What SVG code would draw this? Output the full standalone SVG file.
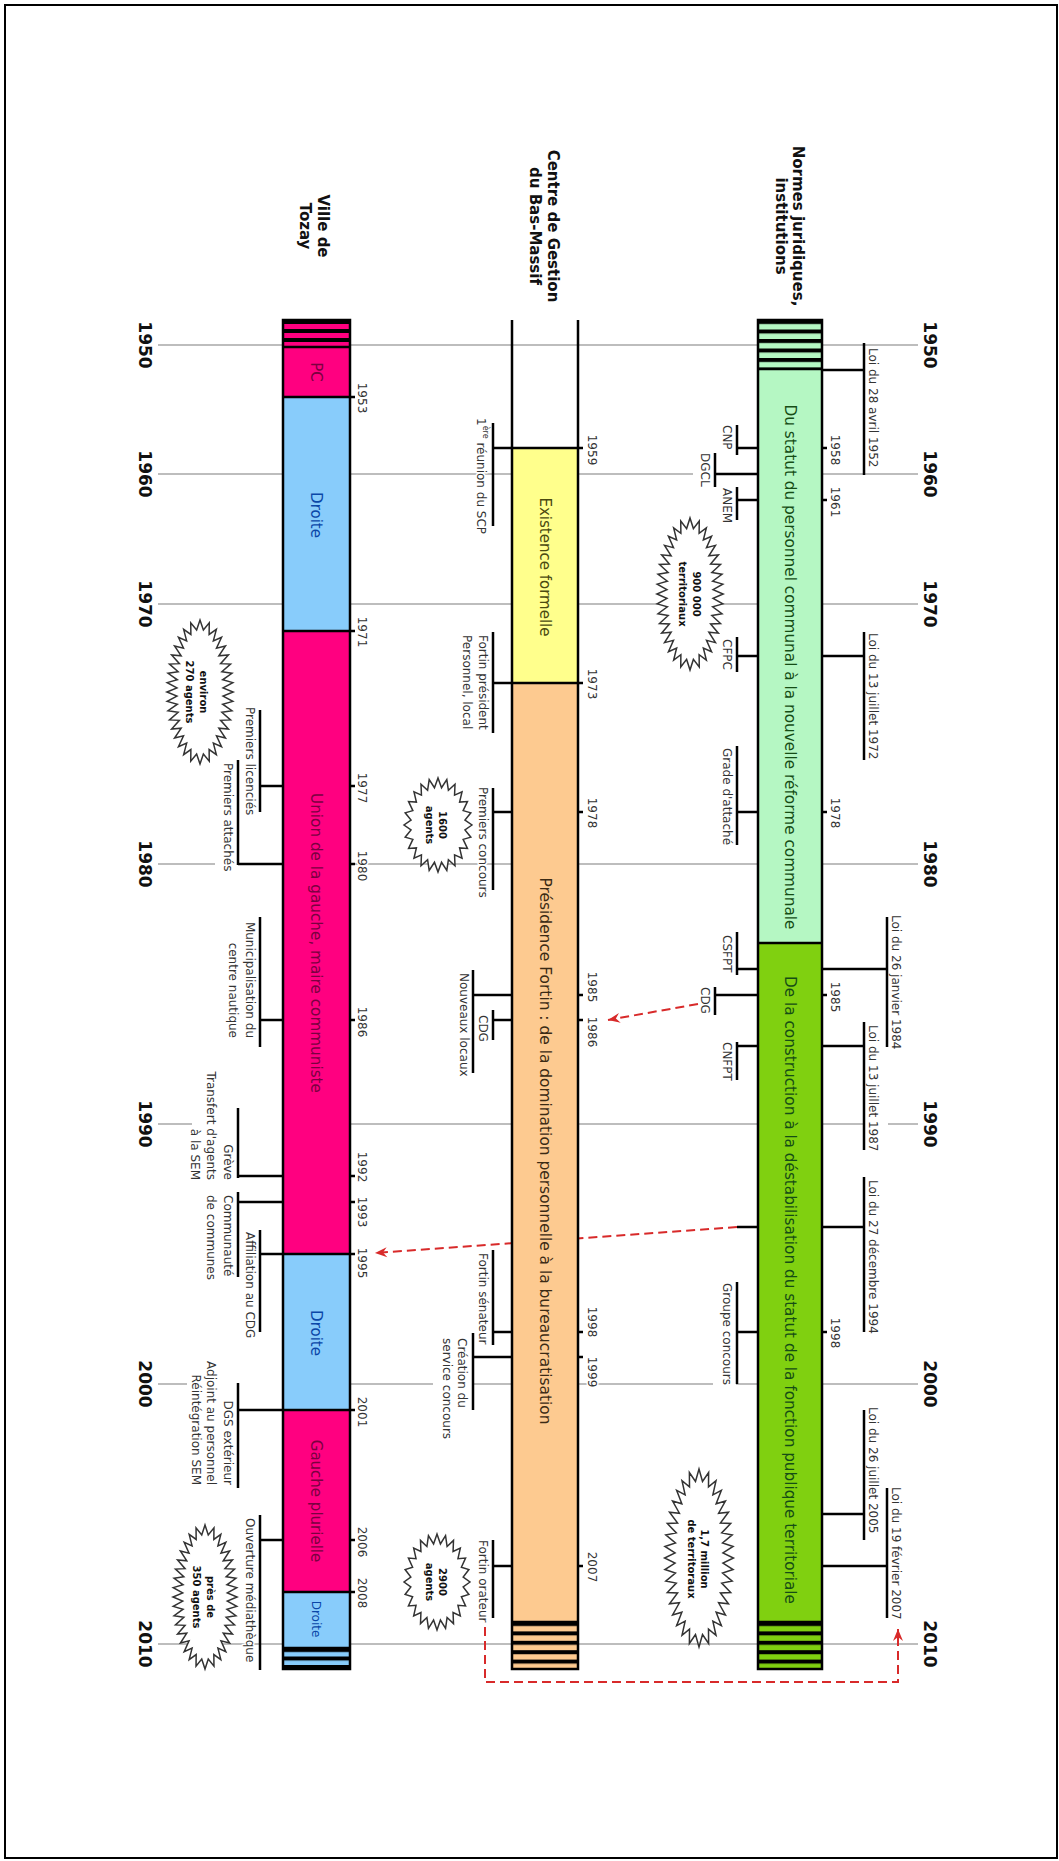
<svg xmlns="http://www.w3.org/2000/svg" xmlns:xlink="http://www.w3.org/1999/xlink" width="1059" height="1861" viewBox="0 0 1059 1861">
<style>
text { font-family: "DejaVu Sans", "Liberation Sans", sans-serif; }
.lbl { font-size: 12px; fill: #333; dominant-baseline: central; paint-order: stroke; stroke: #fff; stroke-width: 3px; stroke-linejoin: round; }
.m { text-anchor: middle; }
.e { text-anchor: end; }
.dec { font-size: 17px; font-weight: bold; fill: #111; text-anchor: middle; dominant-baseline: central; }
.hdr { font-size: 15px; font-weight: bold; fill: #111; text-anchor: middle; dominant-baseline: central; }
.bt { font-size: 15px; text-anchor: middle; dominant-baseline: central; }
.bst { font-size: 10px; font-weight: bold; fill: #111; text-anchor: middle; dominant-baseline: central; }
.ln { stroke: #000; stroke-width: 2.5; fill: none; }
.edge { stroke: #000; stroke-width: 2.5; fill: none; }
.grid { stroke: #bdbdbd; stroke-width: 2; fill: none; }
.burst { fill: #fff; stroke: #333; stroke-width: 1.5; }
.red { fill: none; stroke: #d82a2a; stroke-width: 2; stroke-dasharray: 9 5; }
.lg { fill: #b5f7c3; } .dg { fill: #80d010; } .ye { fill: #ffff8c; } .or { fill: #fdca90; } .pk { fill: #ff0080; } .bl { fill: #88ccfb; }
.tg { fill: #154d15; } .tp { fill: #7a0040; } .tb { fill: #0a47a8; }
</style>
<defs>
<path id="burst" style="vector-effect:non-scaling-stroke" d="M100,0 L79.3,10.4 L96.6,25.9 L73.9,30.6 L86.6,50 L63.5,48.7 L70.7,70.7 L48.7,63.5 L50,86.6 L30.6,73.9 L25.9,96.6 L10.4,79.3 L0,100 L-10.4,79.3 L-25.9,96.6 L-30.6,73.9 L-50,86.6 L-48.7,63.5 L-70.7,70.7 L-63.5,48.7 L-86.6,50 L-73.9,30.6 L-96.6,25.9 L-79.3,10.4 L-100,0 L-79.3,-10.4 L-96.6,-25.9 L-73.9,-30.6 L-86.6,-50 L-63.5,-48.7 L-70.7,-70.7 L-48.7,-63.5 L-50,-86.6 L-30.6,-73.9 L-25.9,-96.6 L-10.4,-79.3 L0,-100 L10.4,-79.3 L25.9,-96.6 L30.6,-73.9 L50,-86.6 L48.7,-63.5 L70.7,-70.7 L63.5,-48.7 L86.6,-50 L73.9,-30.6 L96.6,-25.9 L79.3,-10.4 Z"/>
<path id="burstT" style="vector-effect:non-scaling-stroke" d="M43,0 L29.94,5.66 L42.64,13 L29.42,16.97 L41.53,25.95 L28.38,28.22 L39.63,38.8 L26.75,39.36 L36.85,51.52 L24.48,50.3 L33.05,63.99 L21.43,60.9 L27.97,75.96 L17.33,71.02 L21.25,86.94 L11.86,79.92 L12.02,96.04 L4.39,86.07 L0,100 L-4.39,86.07 L-12.02,96.04 L-11.86,79.92 L-21.25,86.94 L-17.33,71.02 L-27.97,75.96 L-21.43,60.9 L-33.05,63.99 L-24.48,50.3 L-36.85,51.52 L-26.75,39.36 L-39.63,38.8 L-28.38,28.22 L-41.53,25.95 L-29.42,16.97 L-42.64,13 L-29.94,5.66 L-43,0 L-29.94,-5.66 L-42.64,-13 L-29.42,-16.97 L-41.53,-25.95 L-28.38,-28.22 L-39.63,-38.8 L-26.75,-39.36 L-36.85,-51.52 L-24.48,-50.3 L-33.05,-63.99 L-21.43,-60.9 L-27.97,-75.96 L-17.33,-71.02 L-21.25,-86.94 L-11.86,-79.92 L-12.02,-96.04 L-4.39,-86.07 L0,-100 L4.39,-86.07 L12.02,-96.04 L11.86,-79.92 L21.25,-86.94 L17.33,-71.02 L27.97,-75.96 L21.43,-60.9 L33.05,-63.99 L24.48,-50.3 L36.85,-51.52 L26.75,-39.36 L39.63,-38.8 L28.38,-28.22 L41.53,-25.95 L29.42,-16.97 L42.64,-13 L29.94,-5.66 Z"/>
<pattern id="hLG" patternUnits="userSpaceOnUse" x="0" y="320" width="10" height="9.5"><rect width="10" height="9.5" fill="#b5f7c3"/><rect width="10" height="4" fill="#000"/></pattern>
<pattern id="hDG" patternUnits="userSpaceOnUse" x="0" y="1622" width="10" height="9.4"><rect width="10" height="9.4" fill="#80d010"/><rect width="10" height="4" fill="#000"/></pattern>
<pattern id="hOR" patternUnits="userSpaceOnUse" x="0" y="1622" width="10" height="9.4"><rect width="10" height="9.4" fill="#fdca90"/><rect width="10" height="4" fill="#000"/></pattern>
<pattern id="hPK" patternUnits="userSpaceOnUse" x="0" y="320" width="10" height="9"><rect width="10" height="9" fill="#ff0080"/><rect width="10" height="4" fill="#000"/></pattern>
<pattern id="hBL" patternUnits="userSpaceOnUse" x="0" y="1648" width="10" height="8.5"><rect width="10" height="8.5" fill="#88ccfb"/><rect width="10" height="4" fill="#000"/></pattern>
<marker id="arr" viewBox="-13 -6 14 12" refX="0" refY="0" markerWidth="14" markerHeight="12" markerUnits="userSpaceOnUse" orient="auto"><path d="M0,0 L-12,-5 L-8,0 L-12,5 Z" fill="#d82a2a"/></marker>
</defs>

<rect width="1059" height="1861" fill="#fff"/>
<rect x="5" y="5" width="1052" height="1853" fill="none" stroke="#000" stroke-width="2"/>

<g id="grid">
<path class="grid" d="M158,345 H918 M158,474 H693 M715,474 H918 M158,604 H918 M158,864 H215 M238,864 H918 M158,1124 H192 M283,1124 H863 M888,1124 H918 M158,1384 H187 M283,1384 H433 M473,1384 H713 M736,1384 H918 M158,1644 H918"/>
</g>

<g id="decades">
<text class="dec" transform="translate(930,345) rotate(90)">1950</text>
<text class="dec" transform="translate(930,474) rotate(90)">1960</text>
<text class="dec" transform="translate(930,604) rotate(90)">1970</text>
<text class="dec" transform="translate(930,864) rotate(90)">1980</text>
<text class="dec" transform="translate(930,1124) rotate(90)">1990</text>
<text class="dec" transform="translate(930,1384) rotate(90)">2000</text>
<text class="dec" transform="translate(930,1644) rotate(90)">2010</text>
<text class="dec" transform="translate(145,345) rotate(90)">1950</text>
<text class="dec" transform="translate(145,474) rotate(90)">1960</text>
<text class="dec" transform="translate(145,604) rotate(90)">1970</text>
<text class="dec" transform="translate(145,864) rotate(90)">1980</text>
<text class="dec" transform="translate(145,1124) rotate(90)">1990</text>
<text class="dec" transform="translate(145,1384) rotate(90)">2000</text>
<text class="dec" transform="translate(145,1644) rotate(90)">2010</text>
</g>

<g id="connectors">
<path class="red" d="M698,1004 L608,1020" marker-end="url(#arr)"/>
<path class="red" d="M737,1227 L375,1253" marker-end="url(#arr)"/>
<path class="red" d="M485,1627 V1682 H898 V1629" marker-end="url(#arr)"/>
</g>

<g id="normes">
<text class="hdr" transform="translate(789,226) rotate(90)"><tspan x="0" y="-8.5">Normes juridiques,</tspan><tspan x="0" y="8.5">institutions</tspan></text>
<rect x="758" y="320" width="64" height="49" fill="url(#hLG)"/>
<rect class="lg" x="758" y="369" width="64" height="574"/>
<rect class="dg" x="758" y="943" width="64" height="679"/>
<rect x="758" y="1622" width="64" height="47" fill="url(#hDG)"/>
<rect class="edge" x="758" y="320" width="64" height="1349"/>
<path class="ln" d="M758,369 H822 M758,943 H822 M758,1622 H822"/>
<text class="bt tg" transform="translate(790,667) rotate(90)" textLength="525" lengthAdjust="spacingAndGlyphs">Du statut du personnel communal à la nouvelle réforme communale</text>
<text class="bt tg" transform="translate(790,1290) rotate(90)" textLength="628" lengthAdjust="spacingAndGlyphs">De la construction à la déstabilisation du statut de la fonction publique territoriale</text>
<text class="lbl" transform="translate(873,348) rotate(90)">Loi du 28 avril 1952</text>
<text class="lbl m" transform="translate(835,450) rotate(90)">1958</text>
<text class="lbl m" transform="translate(835,502) rotate(90)">1961</text>
<text class="lbl" transform="translate(873,633) rotate(90)">Loi du 13 juillet 1972</text>
<text class="lbl m" transform="translate(835,813) rotate(90)">1978</text>
<text class="lbl" transform="translate(896,915) rotate(90)">Loi du 26 janvier 1984</text>
<text class="lbl m" transform="translate(835,997) rotate(90)">1985</text>
<text class="lbl" transform="translate(873,1025) rotate(90)">Loi du 13 juillet 1987</text>
<text class="lbl" transform="translate(873,1180) rotate(90)">Loi du 27 décembre 1994</text>
<text class="lbl m" transform="translate(835,1333) rotate(90)">1998</text>
<text class="lbl" transform="translate(873,1407) rotate(90)">Loi du 26 juillet 2005</text>
<text class="lbl" transform="translate(896,1487) rotate(90)">Loi du 19 février 2007</text>
<text class="lbl" transform="translate(727,425) rotate(90)">CNP</text>
<text class="lbl" transform="translate(705,453) rotate(90)">DGCL</text>
<text class="lbl" transform="translate(727,488) rotate(90)">ANEM</text>
<text class="lbl" transform="translate(727,639) rotate(90)">CFPC</text>
<text class="lbl" transform="translate(727,748) rotate(90)">Grade d'attaché</text>
<text class="lbl" transform="translate(727,935) rotate(90)">CSFPT</text>
<text class="lbl" transform="translate(705,987) rotate(90)">CDG</text>
<text class="lbl" transform="translate(727,1042) rotate(90)">CNFPT</text>
<text class="lbl" transform="translate(727,1283) rotate(90)">Groupe concours</text>
<path class="ln" d="M822,370 H864 M864,343 V475 M822,656 H864 M864,632 V760 M822,969 H887 M887,917 V1047 M822,1046 H864 M864,1022 V1150 M822,1227 H864 M864,1177 V1332 M822,1514 H864 M864,1410 V1540 M822,1566 H887 M887,1488 V1618"/>
<path class="ln" d="M822,448 H827 M822,500 H827 M822,812 H827 M822,995 H827 M822,1332 H827"/>
<path class="ln" d="M737,448 H758 M737,425 V455 M715,474 H758 M715,453 V487 M737,500 H758 M737,487 V520 M737,656 H758 M737,637 V672 M737,812 H758 M737,746 V845 M737,969 H758 M737,932 V975 M715,995 H758 M715,987 V1015 M737,1046 H758 M737,1042 V1080 M737,1227 H758 M737,1332 H758 M737,1282 V1384"/>
<use href="#burstT" class="burst" transform="translate(690,594) scale(0.77,0.76)"/>
<text class="bst" transform="translate(690,594) rotate(90)"><tspan x="0" y="-7">900 000</tspan><tspan x="0" y="7">territoriaux</tspan></text>
<use href="#burstT" class="burst" transform="translate(699,1558) scale(0.8,0.89)"/>
<text class="bst" transform="translate(698.5,1559) rotate(90)"><tspan x="0" y="-6.5">1,7 million</tspan><tspan x="0" y="6.5">de territoraux</tspan></text>
</g>

<g id="cdg">
<text class="hdr" transform="translate(544,226) rotate(90)"><tspan x="0" y="-9">Centre de Gestion</tspan><tspan x="0" y="9">du Bas-Massif</tspan></text>
<path class="ln" d="M512,320 V448 M578,320 V448"/>
<rect class="ye" x="512" y="448" width="66" height="235"/>
<rect class="or" x="512" y="683" width="66" height="939"/>
<rect x="512" y="1622" width="66" height="47" fill="url(#hOR)"/>
<rect class="edge" x="512" y="448" width="66" height="1221"/>
<path class="ln" d="M512,683 H578 M512,1622 H578"/>
<text class="bt" fill="#4a4a10" transform="translate(545,567) rotate(90)">Existence formelle</text>
<text class="bt" fill="#3b2a14" transform="translate(545,1151) rotate(90)" textLength="547" lengthAdjust="spacingAndGlyphs">Présidence Fortin : de la domination personnelle à la bureaucratisation</text>
<text class="lbl m" transform="translate(592,450) rotate(90)">1959</text>
<text class="lbl m" transform="translate(592,684) rotate(90)">1973</text>
<text class="lbl m" transform="translate(592,813) rotate(90)">1978</text>
<text class="lbl m" transform="translate(592,987) rotate(90)">1985</text>
<text class="lbl m" transform="translate(592,1032) rotate(90)">1986</text>
<text class="lbl m" transform="translate(592,1322) rotate(90)">1998</text>
<text class="lbl m" transform="translate(592,1372) rotate(90)">1999</text>
<text class="lbl m" transform="translate(592,1567) rotate(90)">2007</text>
<path class="ln" d="M578,448 H583 M578,683 H583 M578,812 H583 M578,995 H583 M578,1020 H583 M578,1332 H583 M578,1357 H583 M578,1566 H583"/>
<text class="lbl" transform="translate(481,418) rotate(90)">1<tspan baseline-shift="super" font-size="8">ère</tspan> réunion du SCP</text>
<text class="lbl" transform="translate(475,635) rotate(90)"><tspan x="0" y="-8">Fortin président</tspan><tspan x="0" y="8">Personnel, local</tspan></text>
<text class="lbl" transform="translate(483,787) rotate(90)">Premiers concours</text>
<text class="lbl" transform="translate(464,973) rotate(90)">Nouveaux locaux</text>
<text class="lbl" transform="translate(483,1015) rotate(90)">CDG</text>
<text class="lbl" transform="translate(483,1253) rotate(90)">Fortin sénateur</text>
<text class="lbl" transform="translate(454.5,1338) rotate(90)"><tspan x="0" y="-7.5">Création du</tspan><tspan x="0" y="7.5">service concours</tspan></text>
<text class="lbl" transform="translate(483,1540) rotate(90)">Fortin orateur</text>
<path class="ln" d="M493,448 H512 M493,423 V526 M493,683 H512 M493,632 V733 M493,812 H512 M493,788 V890 M473,995 H512 M473,970 V1073 M493,1020 H512 M493,1010 V1040 M493,1332 H512 M493,1250 V1345 M473,1357 H512 M473,1333 V1410 M493,1566 H512 M493,1540 V1618"/>
<use href="#burst" class="burst" transform="translate(438,825) scale(0.34,0.47)"/>
<text class="bst" transform="translate(436.5,825) rotate(90)"><tspan x="0" y="-6.5">1600</tspan><tspan x="0" y="6.5">agents</tspan></text>
<use href="#burst" class="burst" transform="translate(437,1582) scale(0.33,0.48)"/>
<text class="bst" transform="translate(436.5,1582) rotate(90)"><tspan x="0" y="-6.5">2900</tspan><tspan x="0" y="6.5">agents</tspan></text>
</g>

<g id="ville">
<text class="hdr" transform="translate(314,226) rotate(90)"><tspan x="0" y="-9">Ville de</tspan><tspan x="0" y="9">Tozay</tspan></text>
<rect x="283" y="320" width="67" height="27" fill="url(#hPK)"/>
<rect class="pk" x="283" y="347" width="67" height="50"/>
<rect class="bl" x="283" y="397" width="67" height="234"/>
<rect class="pk" x="283" y="631" width="67" height="623"/>
<rect class="bl" x="283" y="1254" width="67" height="156"/>
<rect class="pk" x="283" y="1410" width="67" height="182"/>
<rect class="bl" x="283" y="1592" width="67" height="56"/>
<rect x="283" y="1648" width="67" height="21" fill="url(#hBL)"/>
<rect class="edge" x="283" y="320" width="67" height="1349"/>
<path class="ln" d="M283,347 H350 M283,397 H350 M283,631 H350 M283,1254 H350 M283,1410 H350 M283,1592 H350 M283,1648 H350"/>
<text class="bt tp" transform="translate(316,372) rotate(90)">PC</text>
<text class="bt tb" transform="translate(316,515) rotate(90)">Droite</text>
<text class="bt tp" transform="translate(316,943) rotate(90)" textLength="300" lengthAdjust="spacingAndGlyphs">Union de la gauche, maire communiste</text>
<text class="bt tb" transform="translate(316,1333) rotate(90)">Droite</text>
<text class="bt tp" transform="translate(316,1501) rotate(90)">Gauche plurielle</text>
<text class="bt tb" style="font-size:12px" transform="translate(316,1619) rotate(90)">Droite</text>
<text class="lbl m" transform="translate(362,398) rotate(90)">1953</text>
<text class="lbl m" transform="translate(362,632) rotate(90)">1971</text>
<text class="lbl m" transform="translate(362,788) rotate(90)">1977</text>
<text class="lbl m" transform="translate(362,866) rotate(90)">1980</text>
<text class="lbl m" transform="translate(362,1022) rotate(90)">1986</text>
<text class="lbl m" transform="translate(362,1167) rotate(90)">1992</text>
<text class="lbl m" transform="translate(362,1212) rotate(90)">1993</text>
<text class="lbl m" transform="translate(362,1263) rotate(90)">1995</text>
<text class="lbl m" transform="translate(362,1412) rotate(90)">2001</text>
<text class="lbl m" transform="translate(362,1542) rotate(90)">2006</text>
<text class="lbl m" transform="translate(362,1593) rotate(90)">2008</text>
<path class="ln" d="M350,397 H355 M350,631 H355 M350,786 H355 M350,864 H355 M350,1020 H355 M350,1176 H355 M350,1202 H355 M350,1254 H355 M350,1410 H355 M350,1540 H355 M350,1592 H355"/>
<text class="lbl" transform="translate(250,707) rotate(90)">Premiers licenciés</text>
<text class="lbl" transform="translate(228,763) rotate(90)">Premiers attachés</text>
<text class="lbl e" transform="translate(241.5,1038) rotate(90)"><tspan x="0" y="-8.5">Municipalisation du</tspan><tspan x="0" y="8.5">centre nautique</tspan></text>
<text class="lbl e" transform="translate(211,1180) rotate(90)"><tspan x="0" y="-16.5">Grève</tspan><tspan x="0" y="0">Transfert d'agents</tspan><tspan x="0" y="16">à la SEM</tspan></text>
<text class="lbl" transform="translate(219.5,1195) rotate(90)"><tspan x="0" y="-8.5">Communauté</tspan><tspan x="0" y="8.5">de communes</tspan></text>
<text class="lbl" transform="translate(250,1232) rotate(90)">Affiliation au CDG</text>
<text class="lbl e" transform="translate(211,1485) rotate(90)"><tspan x="0" y="-16.5">DGS extérieur</tspan><tspan x="0" y="0">Adjoint au personnel</tspan><tspan x="0" y="15.5">Réintégration SEM</tspan></text>
<text class="lbl" transform="translate(250,1518) rotate(90)">Ouverture médiathèque</text>
<path class="ln" d="M260,786 H283 M260,710 V812 M238,864 H283 M238,760 V865 M260,1020 H283 M260,917 V1047 M238,1176 H283 M238,1108 V1178 M238,1202 H283 M238,1192 V1277 M260,1254 H283 M260,1230 V1332 M238,1410 H283 M238,1383 V1488 M260,1540 H283 M260,1515 V1670"/>
<use href="#burstT" class="burst" transform="translate(200,692) scale(0.77,0.72)"/>
<text class="bst" transform="translate(197,692) rotate(90)"><tspan x="0" y="-7">environ</tspan><tspan x="0" y="7">270 agents</tspan></text>
<use href="#burstT" class="burst" transform="translate(205,1597) scale(0.745,0.72)"/>
<text class="bst" transform="translate(204,1597) rotate(90)"><tspan x="0" y="-7">près de</tspan><tspan x="0" y="7">350 agents</tspan></text>
</g>
</svg>
